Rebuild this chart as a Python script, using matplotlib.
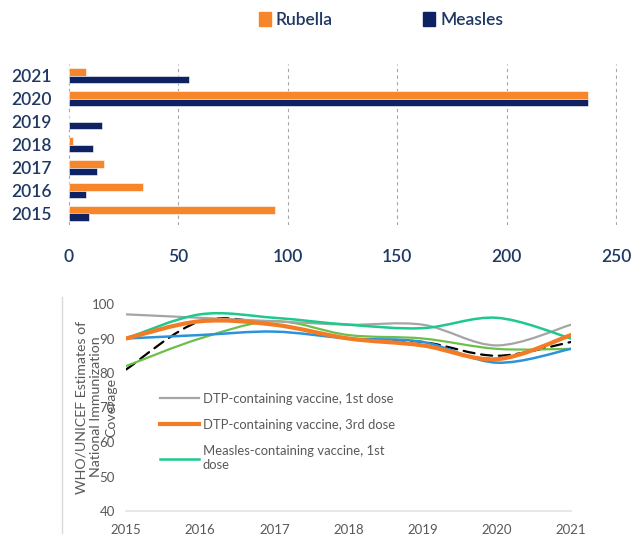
import numpy as np
import matplotlib
matplotlib.use("Agg")
from matplotlib import pyplot as plt
from matplotlib.path import Path
from matplotlib.patches import PathPatch, Patch
from matplotlib.lines import Line2D

plt.rcParams['font.family'] = ['Lato', 'DejaVu Sans']

# top panel: reported cases
years = [2015, 2016, 2017, 2018, 2019, 2020, 2021]
rubella = [94, 34, 16, 2, 0, 237, 8]
measles = [9, 8, 13, 11, 15, 237, 55]

# bottom panel: coverage estimates (%)
dtp1 = [97, 96, 95, 94, 94, 88, 94]
dtp3 = [90, 95, 94, 90, 88, 84, 91]
mcv1 = [90, 97, 96, 94, 93, 96, 90]
blue_series = [90, 91, 92, 90, 89, 83, 87]
lgreen_series = [82, 90, 95, 91, 90, 87, 87]
dashed_series = [81, 95, 94, 90, 89, 85, 89]

NAVY = '#0d2163'
ORANGE = '#f7862a'
TXT = '#1f3864'
GRAY_TXT = '#595959'


def smooth_path(x, y):
    # Excel-like smoothed line as cubic bezier segments
    pts = np.column_stack([x, y]).astype(float)
    n = len(pts)
    verts = [pts[0]]
    codes = [Path.MOVETO]
    for i in range(n - 1):
        p0 = pts[i - 1] if i > 0 else pts[i]
        p1 = pts[i]
        p2 = pts[i + 1]
        p3 = pts[i + 2] if i + 2 < n else pts[i + 1]
        c1 = p1 + (p2 - p0) / 6.0
        c2 = p2 - (p3 - p1) / 6.0
        verts += [c1, c2, p2]
        codes += [Path.CURVE4] * 3
    return Path(verts, codes)


fig = plt.figure(figsize=(6.34, 5.34), dpi=100)

# ---- top: horizontal bars
ax1 = fig.add_axes([68 / 634, 1 - 225 / 534, 549 / 634, 161 / 534])
ypos = np.arange(len(years))
h = 0.33
ax1.barh(ypos + h / 2, rubella, height=h, color=ORANGE, edgecolor='white', linewidth=0.4)
ax1.barh(ypos - h / 2, measles, height=h, color=NAVY, edgecolor='white', linewidth=0.4)
ax1.set_ylim(-0.5, 6.5)
ax1.set_xlim(-0.4, 250.4)
ax1.set_xticks([0, 50, 100, 150, 200, 250])
ax1.set_yticks(ypos)
ax1.set_yticklabels([str(y) for y in years])
for s in ax1.spines.values():
    s.set_visible(False)
ax1.xaxis.grid(True, linestyle=(0, (3, 3)), color='#a6a6a6', linewidth=0.8)
ax1.set_axisbelow(True)
ax1.tick_params(length=0, labelsize=12.5, labelcolor=TXT)
ax1.tick_params(axis='y', pad=12)
ax1.tick_params(axis='x', pad=17)
for t in ax1.get_xticklabels() + ax1.get_yticklabels():
    t.set_fontweight('semibold')

fig.legend(handles=[Patch(color=ORANGE, label='Rubella'), Patch(color=NAVY, label='Measles')],
           loc='center', bbox_to_anchor=(381 / 634, 1 - 20 / 534), ncol=2, frameon=False,
           handlelength=0.7, handleheight=0.9, handletextpad=0.3, columnspacing=5.2,
           prop={'size': 12.5, 'weight': 'semibold'}, labelcolor=TXT)

# ---- bottom: smoothed coverage lines
ax2 = fig.add_axes([126 / 634, 1 - 511 / 534, 445 / 634, 207 / 534])
series = [
    (dashed_series, 'black', 1.6, (0, (5, 3))),
    (lgreen_series, '#6cbf4a', 1.6, '-'),
    (blue_series, '#2a93dc', 1.8, '-'),
    (dtp1, '#a5a5a5', 1.6, '-'),
    (mcv1, '#1dc98b', 1.8, '-'),
    (dtp3, '#f47b25', 3.0, '-'),
]
for vals, col, lw, ls in series:
    ax2.add_patch(PathPatch(smooth_path(years, vals), facecolor='none', edgecolor=col,
                            linewidth=lw, linestyle=ls, capstyle='round'))
ax2.set_xlim(2015, 2021)
ax2.set_ylim(40, 100)
ax2.set_xticks(years)
ax2.set_yticks(np.arange(40, 101, 10))
for s in ['top', 'right', 'left']:
    ax2.spines[s].set_visible(False)
ax2.spines['bottom'].set_color('#e3e3e3')
ax2.spines['bottom'].set_linewidth(1.2)
ax2.tick_params(length=0, labelsize=9.5, labelcolor=GRAY_TXT)
ax2.tick_params(axis='y', pad=8)
ax2.tick_params(axis='x', pad=9)

leg_handles = [Line2D([], [], color='#a5a5a5', lw=1.6),
               Line2D([], [], color='#f47b25', lw=3.0),
               Line2D([], [], color='#1dc98b', lw=1.8)]
leg_labels = ['DTP-containing vaccine, 1st dose',
              'DTP-containing vaccine, 3rd dose',
              'Measles-containing vaccine, 1st\ndose']
ax2.legend(leg_handles, leg_labels, loc='upper left', bbox_to_anchor=(153 / 634, 1 - 386 / 534),
           bbox_transform=fig.transFigure, frameon=False, fontsize=9.4, labelcolor=GRAY_TXT,
           handlelength=3.0, handletextpad=0.3, labelspacing=1.1, borderpad=0)

fig.text(96 / 634, 1 - 407 / 534,
         'WHO/UNICEF Estimates of\nNational Immunization\nCoverage',
         rotation=90, ha='center', va='center', fontsize=10.2, color=GRAY_TXT,
         linespacing=1.3)

# panel divider
fig.add_artist(Line2D([62 / 634, 62 / 634], [0, 1 - 297 / 534], transform=fig.transFigure,
                      color='#d9d9d9', linewidth=1))

fig.savefig('out.png', dpi=100)
